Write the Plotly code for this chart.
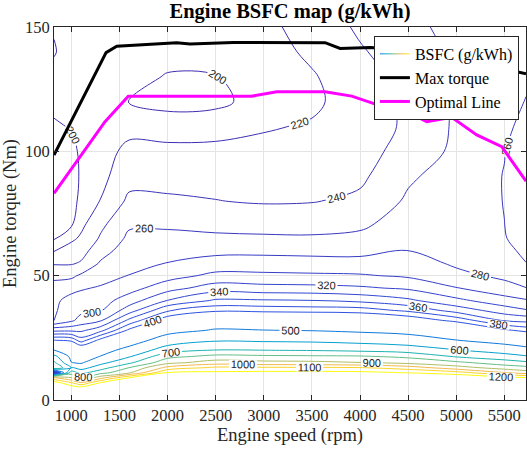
import numpy as np
import plotly.graph_objects as go

# ---- data ----
speed = [820, 1000, 1100, 1300, 1600, 2000, 2500, 3000, 3500, 4000, 4500, 5000, 5500, 5725]
torque = [0, 4, 7, 9, 11, 13, 15, 17.5, 20, 24, 28, 32, 36, 40, 45, 50, 55, 60, 65, 70,
          80, 90, 100, 110, 120, 130, 140, 150]

# BSFC (g/kWh) per speed column, listed bottom (0 Nm) to top (150 Nm)
bsfc_820 = [1500, 1400, 1250, 1000, 180, 800, 720, 630, 502, 401, 335, 279, 277, 275, 268, 255, 238, 219, 198, 192, 187, 185, 189, 198, 204, 204, 199, 201]
bsfc_1000 = [1500, 1350, 1100, 900, 750, 600, 503, 475, 450, 395, 336, 296, 292, 288, 273, 256, 238, 229, 216, 199, 194, 193, 195, 201, 205, 206, 206, 208]
bsfc_1100 = [1500, 1350, 1005, 800, 670, 560, 490, 460, 430, 370, 336, 308, 295, 288, 278, 263, 242, 232, 223, 216, 204, 202, 203, 206, 208, 209, 210, 211]
bsfc_1300 = [1600, 1400, 1195, 950, 760, 650, 570, 502, 465, 407, 353, 317, 298, 291, 282, 272, 262, 252, 242, 236, 220.5, 214, 212, 211, 211, 212, 213, 214]
bsfc_1600 = [1700, 1500, 1350, 1195, 880, 800, 680, 590, 530, 455, 405, 365, 330, 310, 292, 280.5, 275, 270, 264, 258, 244, 233, 225, 214, 199.5, 205, 209, 212]
bsfc_2000 = [1800, 1600, 1450, 1320, 1205, 1030, 870, 770, 650, 545, 470, 415, 378, 340.5, 312, 292, 280.5, 272, 265, 258, 243, 233, 225, 211, 193, 199, 205, 208]
bsfc_2500 = [1800, 1600, 1450, 1330, 1220, 1120, 950, 830, 705, 590, 508, 450, 395, 363, 330, 305, 288, 275, 264, 255, 240.5, 233, 224, 214, 194, 199.5, 206, 210]
bsfc_3000 = [1800, 1620, 1470, 1350, 1230, 1115, 930, 820, 701, 585, 502, 445, 393, 362, 327, 304, 289, 275, 262, 256, 238, 232, 226, 218, 210, 208, 211, 215]
bsfc_3500 = [1800, 1620, 1470, 1350, 1230, 1110, 925, 815, 695, 580, 497, 443, 391, 360.5, 326, 303, 288, 274, 262, 255, 239, 233, 228, 222, 216, 218, 224, 228]
bsfc_4000 = [1800, 1620, 1470, 1350, 1225, 1105, 905, 810, 680, 565, 485, 432, 390, 355, 323, 302, 286, 275, 265, 257, 244, 236, 232, 230.5, 230.5, 233, 238, 243]
bsfc_4500 = [1800, 1620, 1470, 1330, 1195, 1050, 870, 780, 655, 545, 470, 418, 376, 344, 317, 297, 289, 280.5, 275, 270, 263, 257, 248, 243, 244, 246, 250, 254]
bsfc_5000 = [1750, 1550, 1400, 1305, 1140, 940, 825, 690, 605, 502, 443, 393, 352, 325, 301, 285, 277, 274, 273, 272, 271, 269, 264, 263, 263, 263, 264, 267]
bsfc_5500 = [1700, 1500, 1350, 1230, 1005, 855, 750, 640, 555, 465, 405, 358, 330, 308, 287, 276, 270, 265, 261, 260.2, 259.5, 259.5, 260.5, 263, 265, 266, 267, 268]
bsfc_5725 = [1650, 1450, 1320, 1205, 950, 830, 720, 610, 530, 445, 393, 354, 322, 302, 280.5, 269, 260.3, 256, 253, 251, 250, 251, 253, 256, 259.5, 262, 264, 266]

max_speed = [820, 1361, 1472, 2095, 2234, 2684, 3637, 3793, 4105, 4500, 5000, 5500, 5725]
max_torque = [98.5, 139.7, 142.3, 143.7, 143.2, 143.8, 143.7, 141.4, 141.8, 141, 137.5, 133, 131.2]

opt_speed = [820, 1350, 1592, 2875, 3135, 3637, 3914, 4191, 4416, 4694, 4953, 5213, 5473, 5725]
opt_torque = [83.1, 111.9, 122.2, 122.2, 124, 124, 122.2, 118.6, 117.3, 111.9, 113.7, 106.6, 101.9, 88]

x_ticks = [1000, 1500, 2000, 2500, 3000, 3500, 4000, 4500, 5000, 5500]
y_ticks = [0, 50, 100, 150]

# ---- build grid (rows = torque, cols = speed) ----
columns = [bsfc_820, bsfc_1000, bsfc_1100, bsfc_1300, bsfc_1600, bsfc_2000, bsfc_2500,
           bsfc_3000, bsfc_3500, bsfc_4000, bsfc_4500, bsfc_5000, bsfc_5500, bsfc_5725]
z = np.array(columns, dtype=float).T

SERIF = "Liberation Serif"
label_font = dict(family="Liberation Sans", size=11, color="#222222")

fig = go.Figure()

fig.add_trace(go.Contour(
    x=speed, y=torque, z=z,
    autocontour=False,
    contours=dict(start=200, end=400, size=20, coloring="lines",
                  showlabels=True, labelfont=label_font),
    colorscale=[[0, "rgb(62,44,175)"], [1, "rgb(45,82,225)"]],
    zauto=False, zmin=200, zmax=400,
    line=dict(width=1), showscale=False, showlegend=False, hoverinfo="skip",
))

parula_hi = [[0.0, "rgb(16,121,218)"], [1/7, "rgb(6,160,205)"], [2/7, "rgb(29,179,175)"],
             [3/7, "rgb(101,190,134)"], [4/7, "rgb(174,190,103)"], [5/7, "rgb(241,185,74)"],
             [6/7, "rgb(250,211,42)"], [1.0, "rgb(249,251,14)"]]
fig.add_trace(go.Contour(
    x=speed, y=torque, z=z,
    autocontour=False,
    contours=dict(start=500, end=1200, size=100, coloring="lines",
                  showlabels=True, labelfont=label_font),
    colorscale=parula_hi,
    zauto=False, zmin=500, zmax=1200,
    line=dict(width=1), showscale=False, showlegend=True, name="BSFC (g/kWh)",
    hoverinfo="skip",
))

fig.add_trace(go.Scatter(x=max_speed, y=max_torque, mode="lines", name="Max torque",
                         line=dict(color="black", width=3)))
fig.add_trace(go.Scatter(x=opt_speed, y=opt_torque, mode="lines", name="Optimal Line",
                         line=dict(color="#ff00ff", width=3)))

axis_common = dict(
    showline=True, linecolor="#262626", linewidth=1, mirror="ticks",
    ticks="inside", ticklen=5, tickcolor="#262626", automargin=False,
    showgrid=True, gridcolor="#e4e4e4", gridwidth=1, zeroline=False,
    tickfont=dict(family=SERIF, size=16.5, color="#262626"),
)

fig.update_layout(
    width=527, height=450,
    margin=dict(l=54, r=1, t=27, b=50),
    paper_bgcolor="white", plot_bgcolor="white",
    title=dict(text="<b>Engine BSFC map (g/kWh)</b>", x=0.5, xref="paper", xanchor="center",
               y=0.975, yanchor="middle", yref="container",
               font=dict(family=SERIF, size=20.5, color="black")),
    xaxis=dict(range=[820, 5725], tickvals=x_ticks,
               title=dict(text="Engine speed (rpm)", standoff=4,
                          font=dict(family=SERIF, size=18.5, color="#262626")),
               **axis_common),
    yaxis=dict(range=[0, 150], tickvals=y_ticks,
               title=dict(text="Engine torque (Nm)", standoff=4,
                          font=dict(family=SERIF, size=18.5, color="#262626")),
               **axis_common),
    legend=dict(x=0.985, y=0.976, xanchor="right", yanchor="top",
                bgcolor="white", bordercolor="#262626", borderwidth=1,
                font=dict(family=SERIF, size=16, color="black"),
                itemwidth=30, tracegroupgap=0),
    showlegend=True,
)

fig.write_html("out.html", config={"displayModeBar": False},
               post_script="document.body.style.margin='0';document.body.style.overflow='hidden';")
